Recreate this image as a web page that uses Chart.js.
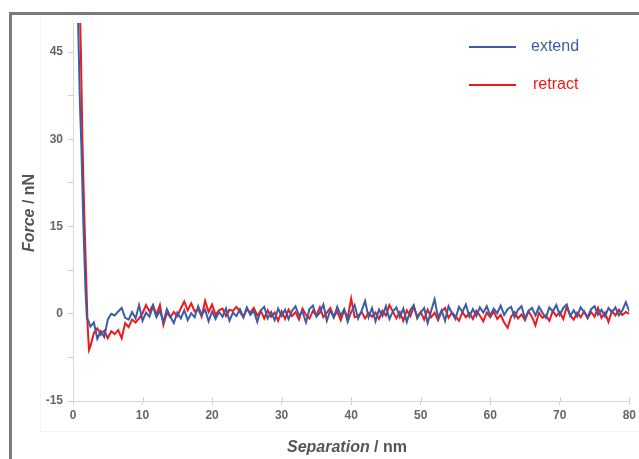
<!DOCTYPE html>
<html>
<head>
<meta charset="utf-8">
<script src="https://cdn.jsdelivr.net/npm/chart.js@4/dist/chart.umd.min.js"></script>
<style>
  html, body { margin: 0; padding: 0; background: #fff; }
  #wrap { position: relative; width: 639px; height: 459px; overflow: hidden; }
  #c { position: absolute; left: 0; top: 0; }
  #panel { position: absolute; left: 40px; top: 14px; width: 610px; height: 418px; border: 1px solid #f3f3f3; box-sizing: border-box; pointer-events: none; }
  #frame { position: absolute; left: 9px; top: 12px; right: -10px; bottom: -10px; border-top: 3px solid #7b7b7b; border-left: 3px solid #7b7b7b; pointer-events: none; }
</style>
</head>
<body>
<div id="wrap">
  <div id="panel"></div>
  <canvas id="c" width="639" height="459"></canvas>
  <div id="frame"></div>
</div>
<script>
// ---- data ----
const seriesNames = ["extend", "retract"];
const yTickValues = [-15, -7.5, 0, 7.5, 15, 22.5, 30, 37.5, 45];
const xTickValues = [0, 10, 20, 30, 40, 50, 60, 70, 80];

const extendX = [0.7, 0.85, 1.0, 1.2, 1.5, 1.8, 2.0, 2.2,
  2.5, 3.0, 3.5, 4.0, 4.5, 5.0, 5.5, 6.0, 6.5, 7.0, 7.5, 8.0, 8.5, 9.0, 9.5, 10.0,
  10.5, 11.0, 11.5, 12.0, 12.5, 13.0, 13.5, 14.0, 14.5, 15.0, 15.5, 16.0, 16.5, 17.0, 17.5, 18.0,
  18.5, 19.0, 19.5, 20.0, 20.5, 21.0, 21.5, 22.0, 22.5, 23.0, 23.5, 24.0, 24.5, 25.0, 25.5, 26.0,
  26.5, 27.0, 27.5, 28.0, 28.5, 29.0, 29.5, 30.0, 30.5, 31.0, 31.5, 32.0, 32.5, 33.0, 33.5, 34.0,
  34.5, 35.0, 35.5, 36.0, 36.5, 37.0, 37.5, 38.0, 38.5, 39.0, 39.5, 40.0, 40.5, 41.0, 41.5, 42.0,
  42.5, 43.0, 43.5, 44.0, 44.5, 45.0, 45.5, 46.0, 46.5, 47.0, 47.5, 48.0, 48.5, 49.0, 49.5, 50.0,
  50.5, 51.0, 51.5, 52.0, 52.5, 53.0, 53.5, 54.0, 54.5, 55.0, 55.5, 56.0, 56.5, 57.0, 57.5, 58.0,
  58.5, 59.0, 59.5, 60.0, 60.5, 61.0, 61.5, 62.0, 62.5, 63.0, 63.5, 64.0, 64.5, 65.0, 65.5, 66.0,
  66.5, 67.0, 67.5, 68.0, 68.5, 69.0, 69.5, 70.0, 70.5, 71.0, 71.5, 72.0, 72.5, 73.0, 73.5, 74.0,
  74.5, 75.0, 75.5, 76.0, 76.5, 77.0, 77.5, 78.0, 78.5, 79.0, 79.5, 80.0];
const extendY = [52, 44, 36, 29, 15, 4, -0.8, -1.2,
  -2.2, -1.5, -4.3, -3.0, -4.0, -1.0, 0.0, -0.3, 0.4, 1.0, -0.7, -1.0, 0.3, -0.8, 1.5, -1.2,
  0.2, -0.5, 1.3, -0.6, 0.5, -1.4, 0.8, -0.5, -1.6, 0.2, -0.8, 0.6, -1.1, 0.1, -0.6, 1.3,
  -0.2, 0.7, -1.3, 0.4, -0.9, 0.3, -0.5, 0.9, -1.2, 0.2, -0.4, 0.8, -0.6, 1.1, -0.2, 0.5,
  -1.4, 0.6, 1.2, -0.8, 0.3, -1.1, 0.9, -0.4, 0.7, -0.9, 0.5, 1.3, -0.3, 0.4, -1.5, 0.8,
  1.4, -0.5, 0.2, 1.6, -1.2, 0.6, -0.7, 1.2, -0.3, 0.8, -1.4, 0.3, 1.5, -0.8, 0.5, 2.2,
  -0.6, 1.0, -1.3, 0.7, -0.4, 1.3, -0.9, 0.4, 1.1, -0.6, 0.9, -1.4, 0.6, 1.5, -0.8, 0.2,
  1.0, -1.6, 0.5, 2.5, -0.7, 0.6, -1.2, 1.3, 0.1, -0.9, 1.2, 0.3, 1.6, -0.5, 0.8, -0.4,
  1.1, 0.2, 1.3, -0.3, 0.9, 0.1, 1.4, -0.2, 0.8, 1.2, -0.6, 0.7, 1.3, -0.8, 0.5, 1.0,
  -0.3, 1.2, 0.2, -0.7, 1.1, 0.4, 1.5, -0.2, 1.0, 1.6, -0.4, 0.6, -0.5, 1.1, 0.3, -0.6,
  0.8, 1.3, -0.2, 0.7, -0.5, 1.0, 0.2, 1.1, -0.3, 0.6, 2.0, 0.4];

const retractX = [1.0, 1.15, 1.35, 1.6, 1.9, 2.1, 2.3,
  2.5, 3.0, 3.5, 4.0, 4.5, 5.0, 5.5, 6.0, 6.5, 7.0, 7.5, 8.0, 8.5, 9.0, 9.5, 10.0,
  10.5, 11.0, 11.5, 12.0, 12.5, 13.0, 13.5, 14.0, 14.5, 15.0, 15.5, 16.0, 16.5, 17.0, 17.5, 18.0,
  18.5, 19.0, 19.5, 20.0, 20.5, 21.0, 21.5, 22.0, 22.5, 23.0, 23.5, 24.0, 24.5, 25.0, 25.5, 26.0,
  26.5, 27.0, 27.5, 28.0, 28.5, 29.0, 29.5, 30.0, 30.5, 31.0, 31.5, 32.0, 32.5, 33.0, 33.5, 34.0,
  34.5, 35.0, 35.5, 36.0, 36.5, 37.0, 37.5, 38.0, 38.5, 39.0, 39.5, 40.0, 40.5, 41.0, 41.5, 42.0,
  42.5, 43.0, 43.5, 44.0, 44.5, 45.0, 45.5, 46.0, 46.5, 47.0, 47.5, 48.0, 48.5, 49.0, 49.5, 50.0,
  50.5, 51.0, 51.5, 52.0, 52.5, 53.0, 53.5, 54.0, 54.5, 55.0, 55.5, 56.0, 56.5, 57.0, 57.5, 58.0,
  58.5, 59.0, 59.5, 60.0, 60.5, 61.0, 61.5, 62.0, 62.5, 63.0, 63.5, 64.0, 64.5, 65.0, 65.5, 66.0,
  66.5, 67.0, 67.5, 68.0, 68.5, 69.0, 69.5, 70.0, 70.5, 71.0, 71.5, 72.0, 72.5, 73.0, 73.5, 74.0,
  74.5, 75.0, 75.5, 76.0, 76.5, 77.0, 77.5, 78.0, 78.5, 79.0, 79.5, 80.0];
const retractY = [52, 44, 30, 18, 6, -2, -6.2,
  -5.6, -3.3, -2.5, -3.6, -2.9, -4.2, -3.0, -3.5, -2.8, -4.2, -1.6, -2.3, -1.0, -1.5, -0.8, 0.1,
  1.5, 0.4, 1.5, -0.2, 1.5, -1.9, 0.2, -0.6, 0.3, -0.4, 0.9, 2.1, 0.6, 1.8, 0.4, 0.8,
  -0.5, 2.2, 0.3, 1.6, -0.2, 0.6, 0.9, -0.4, 0.7, 0.5, 1.2, 0.3, -0.6, 0.8, 0.2, 1.0,
  -0.3, 0.5, -0.8, 0.6, -0.5, 0.2, -1.2, 0.4, -0.9, 0.7, -0.4, 0.3, -1.0, 0.9, -0.2, -0.8,
  0.5, -0.3, 1.1, -0.6, 0.2, 1.0, -0.5, 0.4, -1.1, 0.6, -0.7, 2.6, -0.6, -0.4, 0.3, -0.8,
  0.1, -0.5, 0.2, -0.9, 0.5, -0.3, 1.5, 0.4, -0.8, 0.3, -1.2, 0.6, -0.4, 1.2, -0.5, 0.3,
  -1.0, 0.7, -0.6, 0.2, -1.1, 0.4, 1.0, -0.7, 0.2, -0.4, -1.2, 0.3, -0.6, 0.1, -0.9, 0.5,
  -0.3, -1.3, 0.2, -0.6, 0.4, -0.9, -0.2, -1.5, -2.4, -0.5, 0.3, -0.8, -0.1, -1.1, 0.4, -0.5,
  -2.0, 0.2, -0.7, -0.3, -1.2, 0.5, -0.4, 0.3, -0.9, 1.2, -0.3, -1.0, 0.2, -0.6, 0.4, -0.8,
  0.3, -0.5, 1.0, -0.7, 0.2, -1.4, 0.5, -0.3, 0.7, -0.2, 0.3, 0.0];

const colors = { extend: "#3a5da5", retract: "#f01818" };

function pts(xs, ys) { return xs.map((x, i) => ({ x: x, y: ys[i] })); }

const overlay = {
  id: "overlay",
  afterDraw(chart) {
    const ctx = chart.ctx;
    ctx.save();
    // x-axis ticks crossing the axis line (upper half)
    const xs = chart.scales.x, bottom = chart.chartArea.bottom;
    ctx.strokeStyle = "#cfcfcf"; ctx.lineWidth = 1;
    xTickValues.forEach(v => {
      const px = Math.round(xs.getPixelForValue(v)) + 0.5;
      ctx.beginPath(); ctx.moveTo(px, bottom - 4); ctx.lineTo(px, bottom); ctx.stroke();
    });
    // legend
    const leg = [
      { name: seriesNames[0], color: colors.extend, y: 47, tx: 531 },
      { name: seriesNames[1], color: colors.retract, y: 85, tx: 533 }
    ];
    leg.forEach(l => {
      ctx.strokeStyle = l.color; ctx.lineWidth = 2;
      ctx.beginPath(); ctx.moveTo(469, l.y); ctx.lineTo(516, l.y); ctx.stroke();
      ctx.fillStyle = l.color;
      ctx.font = "16px 'Liberation Sans', Arial, sans-serif";
      ctx.textBaseline = "middle"; ctx.textAlign = "left";
      ctx.fillText(l.name, l.tx, l.y);
    });
    // axis titles
    function mixed(parts, cx, cy, rot) {
      ctx.save();
      ctx.translate(cx, cy); ctx.rotate(rot);
      ctx.fillStyle = "#555"; ctx.textBaseline = "middle"; ctx.textAlign = "left";
      let w = 0;
      parts.forEach(p => { ctx.font = p.f; w += ctx.measureText(p.t).width; });
      let x = -w / 2;
      parts.forEach(p => { ctx.font = p.f; ctx.fillText(p.t, x, 0); x += ctx.measureText(p.t).width; });
      ctx.restore();
    }
    const fi = "italic bold 16px 'Liberation Sans', Arial, sans-serif";
    const fb = "bold 16px 'Liberation Sans', Arial, sans-serif";
    mixed([{ t: "Separation", f: fi }, { t: " / nm", f: fb }], 347, 448, 0);
    mixed([{ t: "Force", f: fi }, { t: " / nN", f: fb }], 30, 213, -Math.PI / 2);
    ctx.restore();
  }
};

new Chart(document.getElementById("c"), {
  type: "line",
  data: {
    datasets: [
      { label: seriesNames[0], data: pts(extendX, extendY), borderColor: colors.extend, borderWidth: 2, pointRadius: 0, tension: 0 },
      { label: seriesNames[1], data: pts(retractX, retractY), borderColor: colors.retract, borderWidth: 2, pointRadius: 0, tension: 0 }
    ]
  },
  options: {
    responsive: false,
    animation: false,
    layout: { padding: { left: 0, right: 9, top: 23, bottom: 0 } },
    plugins: { legend: { display: false }, tooltip: { enabled: false } },
    scales: {
      x: {
        type: "linear", min: 0, max: 80,
        afterBuildTicks(s) { s.ticks = xTickValues.map(v => ({ value: v })); },
        afterFit(s) { s.height = 58; },
        border: { color: "#d8d8d8", width: 1 },
        grid: { drawOnChartArea: false, drawTicks: true, tickLength: 4, color: "#cfcfcf" },
        ticks: { color: "#666", font: { family: "'Liberation Sans', Arial, sans-serif", size: 12, weight: "bold" }, padding: 3, maxRotation: 0 }
      },
      y: {
        type: "linear", min: -15, max: 50,
        afterBuildTicks(s) { s.ticks = yTickValues.map(v => ({ value: v })); },
        afterFit(s) { s.width = 73; },
        border: { color: "#d8d8d8", width: 1 },
        grid: { drawOnChartArea: false, drawTicks: true, tickLength: 5, color: "#cfcfcf" },
        ticks: {
          color: "#666", font: { family: "'Liberation Sans', Arial, sans-serif", size: 12, weight: "bold" }, padding: 5,
          callback: v => (v % 15 === 0 ? String(v) : "")
        }
      }
    }
  },
  plugins: [overlay]
});
</script>
</body>
</html>
